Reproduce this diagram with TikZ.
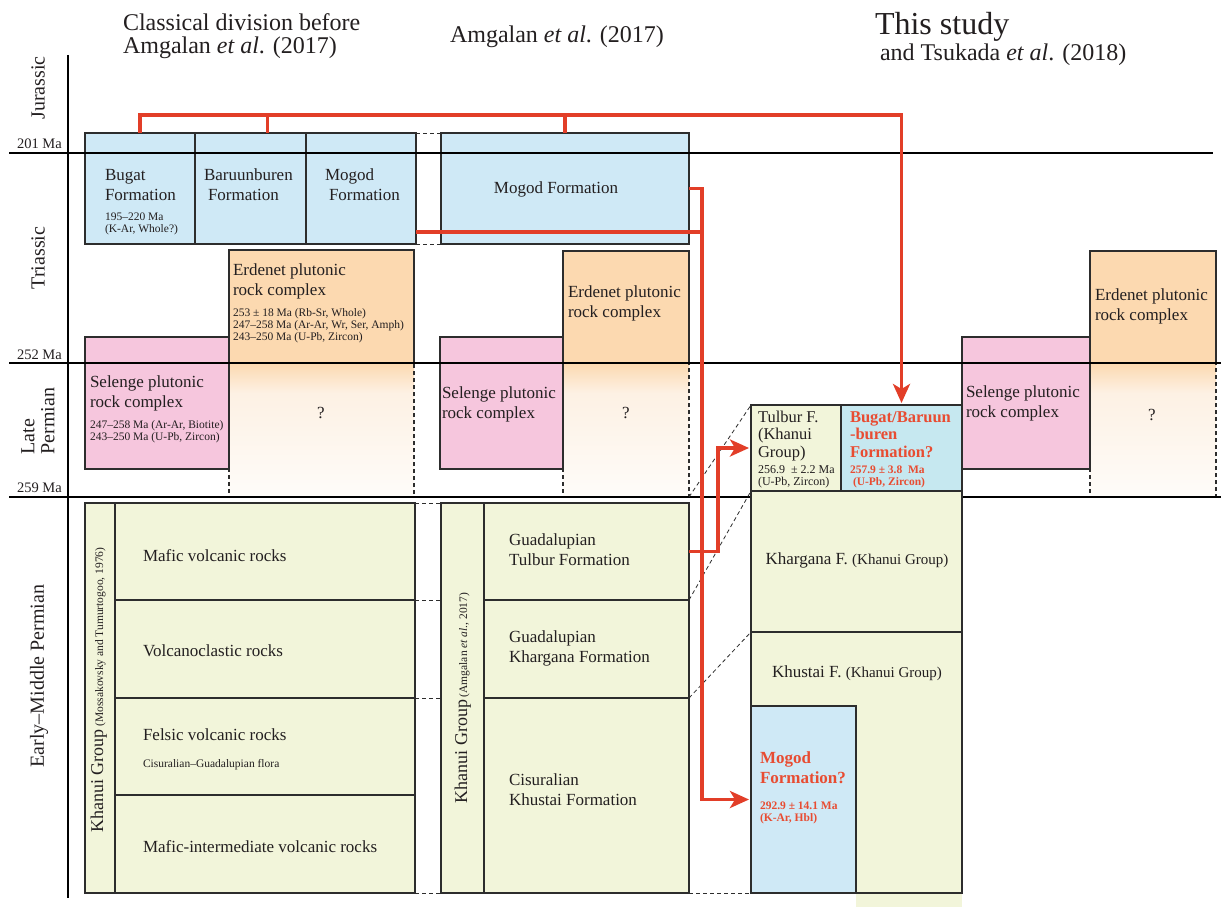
\documentclass[tikz,border=0pt]{standalone}
\usepackage{fontspec}
\setmainfont{Liberation Serif}
\usetikzlibrary{arrows.meta,calc}
\definecolor{bluebox}{RGB}{207,233,246}
\definecolor{cyanbox}{RGB}{198,232,240}
\definecolor{orangebox}{RGB}{252,217,176}
\definecolor{pinkbox}{RGB}{246,198,221}
\definecolor{greenbox}{RGB}{242,245,218}
\definecolor{redline}{RGB}{226,62,40}
\definecolor{redtext}{RGB}{232,76,50}
\definecolor{cream}{RGB}{253,241,228}
\definecolor{creamlight}{RGB}{254,252,249}
\definecolor{edge}{RGB}{45,45,45}
\definecolor{txt}{RGB}{35,31,32}
\newcommand\FSbox{\fontsize{17}{20}\selectfont}
\newcommand\FSboxc{\fontsize{16.5}{18}\selectfont}
\newcommand\FSsmall{\fontsize{11.5}{12}\selectfont}
\newcommand\FSsmallc{\fontsize{12}{13}\selectfont}
\newcommand\FStitle{\fontsize{24}{26}\selectfont}
\newcommand\FSbigtitle{\fontsize{32}{34}\selectfont}
\newcommand\FSperiod{\fontsize{20}{20}\selectfont}
\newcommand\FSma{\fontsize{14.5}{16}\selectfont}
\newcommand\FSkh{\fontsize{18}{20}\selectfont}
\begin{document}
\begin{tikzpicture}[x=1pt,y=-1pt,
 box/.style={draw=edge,line width=1.4pt,inner sep=0pt,outer sep=0pt,anchor=north west},
 lbl/.style={anchor=base west,inner sep=0pt,outer sep=0pt,text=txt},
 clbl/.style={anchor=base,inner sep=0pt,outer sep=0pt,text=txt},
 rlbl/.style={anchor=base west,inner sep=0pt,outer sep=0pt,text=redtext,font=\FSboxc\bfseries},
 rsml/.style={anchor=base west,inner sep=0pt,outer sep=0pt,text=redtext,font=\FSsmall\bfseries},
 maline/.style={line width=1.1pt,black},
 dashc/.style={line width=0.8pt,draw=edge,dash pattern=on 4pt off 3pt},
 dashq/.style={line width=1.3pt,draw=edge,dash pattern=on 4pt off 3pt},
 redln/.style={line width=3.8pt,draw=redline,line join=miter},
 arrowR/.style={-{Stealth[length=19pt,width=17pt,inset=5pt]},shorten >=2pt},
 qmark/.style={inner sep=0pt,text=txt,font=\FSbox}
]
\useasboundingbox (0,0) rectangle (1223,907);
\fill[white] (0,0) rectangle (1223,907);

% ---------- titles ----------
\node[lbl,font=\FStitle] (tt1a) at (123,31) {Classical division before};
\node[lbl,font=\FStitle] (tt1b) at (123,53) {Amgalan \textit{et al}. (2017)};
\node[lbl,font=\FStitle] (tt2) at (450,43) {Amgalan \textit{et al}. (2017)};
\node[lbl,font=\FSbigtitle] (tt3a) at (875,35) {This study};
\node[lbl,font=\FStitle] (tt3b) at (880,61) {and Tsukada \textit{et al}. (2018)};

% ---------- time axis ----------
\draw[line width=2.4pt,black] (68,55) -- (68,898);
\node[anchor=base east,inner sep=0pt,font=\FSma,text=txt] (ma201) at (62,148) {201 Ma};
\node[anchor=base east,inner sep=0pt,font=\FSma,text=txt] (ma252) at (62,359) {252 Ma};
\node[anchor=base east,inner sep=0pt,font=\FSma,text=txt] (ma259) at (62,492) {259 Ma};
\node[rotate=90,inner sep=0pt,font=\FSperiod,text=txt] (pjur) at (38,88) {Jurassic};
\node[rotate=90,inner sep=0pt,font=\FSperiod,text=txt] (ptri) at (38,258) {Triassic};
\node[rotate=90,inner sep=0pt,font=\FSperiod,text=txt,align=left] (plate) at (38,421) {Late\\Permian};
\node[rotate=90,inner sep=0pt,font=\FSperiod,text=txt] (pearly) at (39,676) {Early--Middle Permian};

% ---------- column 1 ----------
\node[box,fill=bluebox,minimum width=110pt,minimum height=111pt] (bugat) at (85,133) {};
\node[box,fill=bluebox,minimum width=111pt,minimum height=111pt] (baruun) at (195,133) {};
\node[box,fill=bluebox,minimum width=110pt,minimum height=111pt] (mogodA) at (306,133) {};
\node[lbl,font=\FSbox] (bugT1) at (105,180) {Bugat};
\node[lbl,font=\FSbox] (bugT2) at (105,200) {Formation};
\node[lbl,font=\FSsmall] (bugT3) at (105,220) {195--220 Ma};
\node[lbl,font=\FSsmall] (bugT4) at (105,232) {(K-Ar, Whole?)};
\node[lbl,font=\FSbox] (barT1) at (204,180) {Baruunburen};
\node[lbl,font=\FSbox] (barT2) at (208,200) {Formation};
\node[lbl,font=\FSbox] (mogAT1) at (325,180) {Mogod};
\node[lbl,font=\FSbox] (mogAT2) at (329,200) {Formation};

\shade[top color=orangebox,bottom color=cream] (229,363) rectangle (414,393);
\shade[top color=cream,bottom color=creamlight] (229,393) rectangle (414,497);
\draw[dashq] (229,363) -- (229,497) -- (414,497) -- (414,363);
\node[qmark] (q1) at (321,413) {?};
\node[box,fill=orangebox,minimum width=185pt,minimum height=113pt] (erdA) at (229,250) {};
\node[lbl,font=\FSbox] (erdAT1) at (233,275) {Erdenet plutonic};
\node[lbl,font=\FSbox] (erdAT2) at (233,295) {rock complex};
\node[lbl,font=\FSsmall] (erdAT3) at (233,316) {253 ± 18 Ma (Rb-Sr, Whole)};
\node[lbl,font=\FSsmall] (erdAT4) at (233,328) {247--258 Ma (Ar-Ar, Wr, Ser, Amph)};
\node[lbl,font=\FSsmall] (erdAT5) at (233,340) {243--250 Ma (U-Pb, Zircon)};

\node[box,fill=pinkbox,minimum width=144pt,minimum height=132pt] (selA) at (85,337) {};
\node[lbl,font=\FSbox] (selAT1) at (90,387) {Selenge plutonic};
\node[lbl,font=\FSbox] (selAT2) at (90,407) {rock complex};
\node[lbl,font=\FSsmall] (selAT3) at (90,428) {247--258 Ma (Ar-Ar, Biotite)};
\node[lbl,font=\FSsmall] (selAT4) at (90,440) {243--250 Ma (U-Pb, Zircon)};

\node[box,fill=greenbox,minimum width=30pt,minimum height=390pt] (khA) at (85,503) {};
\node[box,fill=greenbox,minimum width=300pt,minimum height=97pt] (r1A) at (115,503) {};
\node[box,fill=greenbox,minimum width=300pt,minimum height=98pt] (r2A) at (115,600) {};
\node[box,fill=greenbox,minimum width=300pt,minimum height=97pt] (r3A) at (115,698) {};
\node[box,fill=greenbox,minimum width=300pt,minimum height=98pt] (r4A) at (115,795) {};
\node[rotate=90,anchor=base,inner sep=0pt,text=txt] (khAT) at (103,690) {{\FSkh Khanui Group} {\FSsmall (Mossakovsky and Tumurtogoo, 1976)}};
\node[lbl,font=\FSbox] (r1AT) at (143,561) {Mafic volcanic rocks};
\node[lbl,font=\FSbox] (r2AT) at (143,656) {Volcanoclastic rocks};
\node[lbl,font=\FSbox] (r3AT) at (143,740) {Felsic volcanic rocks};
\node[lbl,font=\FSsmall] (r3AT2) at (143,767) {Cisuralian--Guadalupian flora};
\node[lbl,font=\FSbox] (r4AT) at (143,852) {Mafic-intermediate volcanic rocks};

% ---------- column 2 ----------
\node[box,fill=bluebox,minimum width=248pt,minimum height=111pt] (mogodB) at (441,133) {};
\node[clbl,font=\FSbox] (mogBT) at (556,193) {Mogod Formation};

\shade[top color=orangebox,bottom color=cream] (563,363) rectangle (689,393);
\shade[top color=cream,bottom color=creamlight] (563,393) rectangle (689,497);
\draw[dashq] (563,363) -- (563,497) -- (689,497) -- (689,363);
\coordinate (q2se) at (689,497);
\node[qmark] (q2) at (626,413) {?};
\node[box,fill=orangebox,minimum width=126pt,minimum height=112pt] (erdB) at (563,251) {};
\node[lbl,font=\FSbox] (erdBT1) at (568,297) {Erdenet plutonic};
\node[lbl,font=\FSbox] (erdBT2) at (568,317) {rock complex};

\node[box,fill=pinkbox,minimum width=123pt,minimum height=132pt] (selB) at (440,337) {};
\node[lbl,font=\FSbox] (selBT1) at (442,398) {Selenge plutonic};
\node[lbl,font=\FSbox] (selBT2) at (442,418) {rock complex};

\node[box,fill=greenbox,minimum width=43pt,minimum height=390pt] (khB) at (441,503) {};
\node[box,fill=greenbox,minimum width=205pt,minimum height=97pt] (tulA) at (484,503) {};
\node[box,fill=greenbox,minimum width=205pt,minimum height=98pt] (kharA) at (484,600) {};
\node[box,fill=greenbox,minimum width=205pt,minimum height=195pt] (khuA) at (484,698) {};
\node[rotate=90,anchor=base,inner sep=0pt,text=txt] (khBT) at (467,698) {{\FSkh Khanui Group} {\FSsmall (Amgalan \textit{et al}., 2017)}};
\node[lbl,font=\FSbox] (tulAT1) at (509,545) {Guadalupian};
\node[lbl,font=\FSbox] (tulAT2) at (509,565) {Tulbur Formation};
\node[lbl,font=\FSbox] (kharAT1) at (509,642) {Guadalupian};
\node[lbl,font=\FSbox] (kharAT2) at (509,662) {Khargana Formation};
\node[lbl,font=\FSbox] (khuAT1) at (509,785) {Cisuralian};
\node[lbl,font=\FSbox] (khuAT2) at (509,805) {Khustai Formation};

% ---------- column 3 (upper) ----------
\shade[top color=orangebox,bottom color=cream] (1090,363) rectangle (1216,393);
\shade[top color=cream,bottom color=creamlight] (1090,393) rectangle (1216,497);
\draw[dashq] (1090,363) -- (1090,497) -- (1216,497) -- (1216,363);
\node[qmark] (q3) at (1152,415) {?};
\node[box,fill=orangebox,minimum width=126pt,minimum height=112pt] (erdC) at (1090,251) {};
\node[lbl,font=\FSbox] (erdCT1) at (1095,300) {Erdenet plutonic};
\node[lbl,font=\FSbox] (erdCT2) at (1095,320) {rock complex};
\node[box,fill=pinkbox,minimum width=128pt,minimum height=132pt] (selC) at (962,337) {};
\node[lbl,font=\FSbox] (selCT1) at (966,397) {Selenge plutonic};
\node[lbl,font=\FSbox] (selCT2) at (966,417) {rock complex};

% ---------- boundary lines ----------
\draw[maline] (9,153) -- (1213,153);
\draw[maline] (9,363) -- (1221,363);
\draw[maline] (9,497) -- (1221,497);

% ---------- column 3 (lower) ----------
\fill[greenbox] (856,893) rectangle (962,907);
\node[box,fill=greenbox,minimum width=90pt,minimum height=86pt] (tulC) at (751,405) {};
\node[box,fill=cyanbox,minimum width=121pt,minimum height=86pt] (bugC) at (841,405) {};
\node[box,fill=greenbox,minimum width=211pt,minimum height=141pt] (kharC) at (751,491) {};
\node[box,fill=greenbox,minimum width=211pt,minimum height=261pt] (khuC) at (751,632) {};
\node[box,fill=bluebox,minimum width=105pt,minimum height=187pt] (mogodC) at (751,706) {};

\node[lbl,font=\FSboxc] (tulCT1) at (758,422) {Tulbur F.};
\node[lbl,font=\FSboxc] (tulCT2) at (758,439) {(Khanui};
\node[lbl,font=\FSboxc] (tulCT3) at (758,457) {Group)};
\node[lbl,font=\FSsmallc] (tulCT4) at (758,473) {256.9 \ ± 2.2 Ma};
\node[lbl,font=\FSsmallc] (tulCT5) at (758,485) {(U-Pb, Zircon)};
\node[rlbl] (bugCT1) at (850,422) {Bugat/Baruun};
\node[rlbl] (bugCT2) at (850,439) {-buren};
\node[rlbl] (bugCT3) at (850,457) {Formation?};
\node[rsml] (bugCT4) at (850,473) {257.9 ± 3.8 \ Ma};
\node[rsml] (bugCT5) at (853,485) {(U-Pb, Zircon)};
\node[clbl,font=\FSbox] (kharCT) at (857,564) {Khargana F. {\fontsize{15}{17}\selectfont (Khanui Group)}};
\node[clbl,font=\FSbox] (khuCT) at (857,677) {Khustai F. {\fontsize{15}{17}\selectfont (Khanui Group)}};
\node[rlbl,font=\FSbox\bfseries] (mogCT1) at (760,763) {Mogod};
\node[rlbl,font=\FSbox\bfseries] (mogCT2) at (760,783) {Formation?};
\node[rsml] (mogCT3) at (760,809) {292.9 ± 14.1 Ma};
\node[rsml] (mogCT4) at (760,821) {(K-Ar, Hbl)};

% ---------- dashed correlation lines ----------
\draw[dashc] (mogodA.north east) -- (mogodB.north west);
\draw[dashc] (mogodA.south east) -- (mogodB.south west);
\draw[dashc] (r1A.north east) -- (khB.north west);
\draw[dashc] (r2A.north east) -- (r2A.north east -| khB.west);
\draw[dashc] (r3A.north east) -- (r3A.north east -| khB.west);
\draw[dashc] (r4A.south east) -- (khB.south west);
\draw[dashc] (q2se) -- (tulC.north west);
\draw[dashc] (kharA.north east) -- (kharC.north west);
\draw[dashc] (khuA.north east) -- (khuC.north west);
\draw[dashc] (khuA.south east) -- (mogodC.south west);

% ---------- red connectors ----------
\coordinate (rtop) at (0,115);
\coordinate (rv) at (702,232);
\draw[redln] ($(baruun.north)+(17,0)$) -- ++(0,-18);
\draw[redln] (mogodB.north) -- (mogodB.north |- rtop);
\draw[redln] (mogodA.east |- rv) -- (rv);
\draw[redln,arrowR] (bugat.north) |- (bugC.north |- rtop) -- (bugC.north);
\draw[redln,arrowR] (mogodB.east) -- (rv |- mogodB.east) |- (mogodC.west);
\draw[redln,arrowR] (tulA.east) -- ++(29,0) |- (tulC.west);
\end{tikzpicture}
\end{document}
